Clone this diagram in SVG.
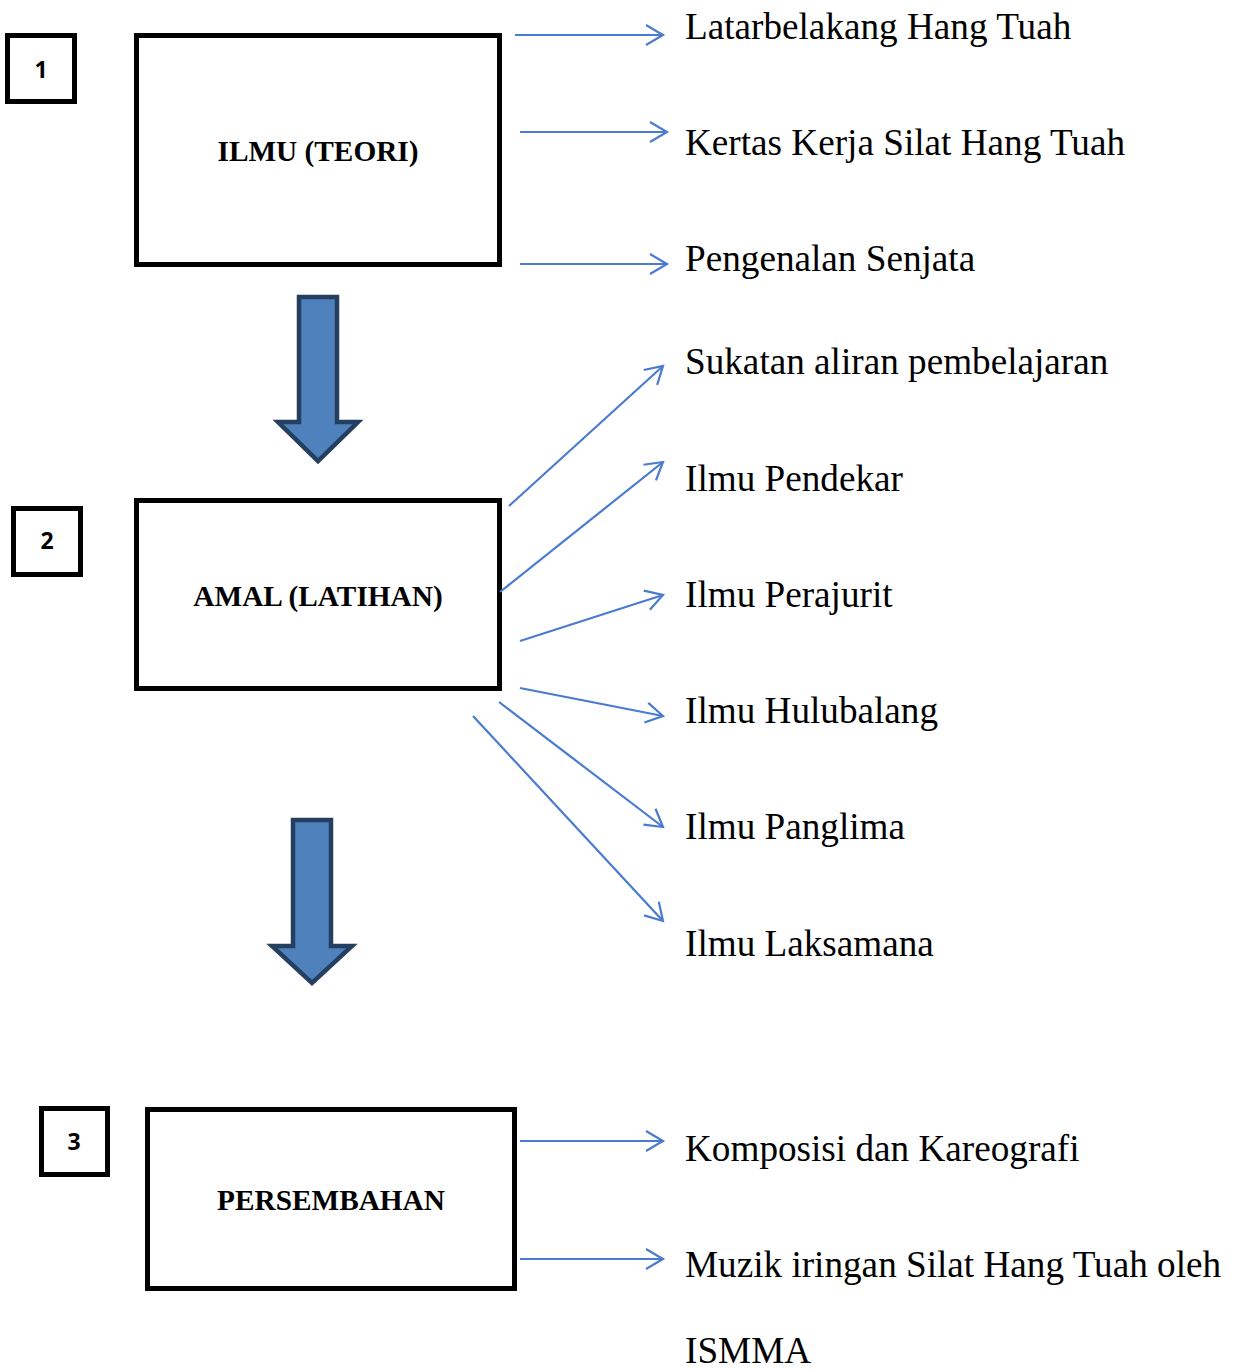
<svg xmlns="http://www.w3.org/2000/svg" width="1235" height="1370" viewBox="0 0 1235 1370">
<defs>
<style>
.box{fill:#fff;stroke:#000;stroke-width:5}
.num{font-family:"Open Sans","Liberation Sans",Arial,sans-serif;font-weight:bold;font-size:23px;text-anchor:middle;fill:#000}
.title{font-family:"Liberation Serif","Times New Roman",serif;font-weight:bold;font-size:29.3px;text-anchor:middle;fill:#000}
.lbl{font-family:"Liberation Serif","Times New Roman",serif;font-size:37.2px;fill:#000}
.con{stroke:#4A7BD0;stroke-width:2.2;fill:none}
.big{fill:#4F81BD;stroke:#243F60;stroke-width:4.5;stroke-linejoin:miter}
</style>
<marker id="ah" markerUnits="userSpaceOnUse" viewBox="-20 -13 23 26" refX="0" refY="0" markerWidth="23" markerHeight="26" orient="auto" overflow="visible">
<path d="M-17,-10 L0,0 L-17,10" fill="none" stroke="#4A7BD0" stroke-width="2.2"/>
</marker>
</defs>
<rect width="1235" height="1370" fill="#fff"/>

<g id="n1">
<rect class="box" x="7.5" y="35.5" width="67" height="66"/>
<text class="num" x="41" y="78">1</text>
</g>
<g id="ilmu">
<rect class="box" x="136.5" y="35.5" width="363" height="229"/>
<text class="title" x="318" y="161">ILMU (TEORI)</text>
</g>
<g id="n2">
<rect class="box" x="13.5" y="508.5" width="67" height="66"/>
<text class="num" x="47" y="549">2</text>
</g>
<g id="amal">
<rect class="box" x="136.5" y="500.5" width="363" height="188"/>
<text class="title" x="318" y="606">AMAL (LATIHAN)</text>
</g>
<g id="n3">
<rect class="box" x="41.5" y="1108.5" width="66" height="66"/>
<text class="num" x="74" y="1150">3</text>
</g>
<g id="persembahan">
<rect class="box" x="147.5" y="1109.5" width="367" height="179"/>
<text class="title" x="331" y="1210">PERSEMBAHAN</text>
</g>

<g id="flow-arrow-1">
<polygon class="big" points="299,297 337,297 337,422 358,422 318,461 278,422 299,422"/>
</g>
<g id="flow-arrow-2">
<polygon class="big" points="293,820 331,820 331,946 352,946 312,983 272,946 293,946"/>
</g>

<g id="labels">
<text class="lbl" x="685" y="39">Latarbelakang Hang Tuah</text>
<text class="lbl" x="685" y="155">Kertas Kerja Silat Hang Tuah</text>
<text class="lbl" x="685" y="271">Pengenalan Senjata</text>
<text class="lbl" x="685" y="374">Sukatan aliran pembelajaran</text>
<text class="lbl" x="685" y="491">Ilmu Pendekar</text>
<text class="lbl" x="685" y="607">Ilmu Perajurit</text>
<text class="lbl" x="685" y="723">Ilmu Hulubalang</text>
<text class="lbl" x="685" y="839">Ilmu Panglima</text>
<text class="lbl" x="685" y="956">Ilmu Laksamana</text>
<text class="lbl" x="685" y="1161">Komposisi dan Kareografi</text>
<text class="lbl" x="685" y="1277">Muzik iringan Silat Hang Tuah oleh</text>
<text class="lbl" x="685" y="1363">ISMMA</text>
</g>

<g id="connectors">
<line class="con" x1="515" y1="35" x2="663" y2="35" marker-end="url(#ah)"/>
<line class="con" x1="520" y1="132" x2="667" y2="132" marker-end="url(#ah)"/>
<line class="con" x1="520" y1="264" x2="667" y2="264" marker-end="url(#ah)"/>
<line class="con" x1="509" y1="506" x2="663" y2="366" marker-end="url(#ah)"/>
<line class="con" x1="500" y1="592" x2="663" y2="462" marker-end="url(#ah)"/>
<line class="con" x1="520" y1="641" x2="663" y2="595" marker-end="url(#ah)"/>
<line class="con" x1="520" y1="688" x2="663" y2="716" marker-end="url(#ah)"/>
<line class="con" x1="499" y1="702" x2="663" y2="827" marker-end="url(#ah)"/>
<line class="con" x1="473" y1="716" x2="663" y2="921" marker-end="url(#ah)"/>
<line class="con" x1="520" y1="1141" x2="663" y2="1141" marker-end="url(#ah)"/>
<line class="con" x1="520" y1="1259" x2="663" y2="1259" marker-end="url(#ah)"/>
</g>
</svg>
